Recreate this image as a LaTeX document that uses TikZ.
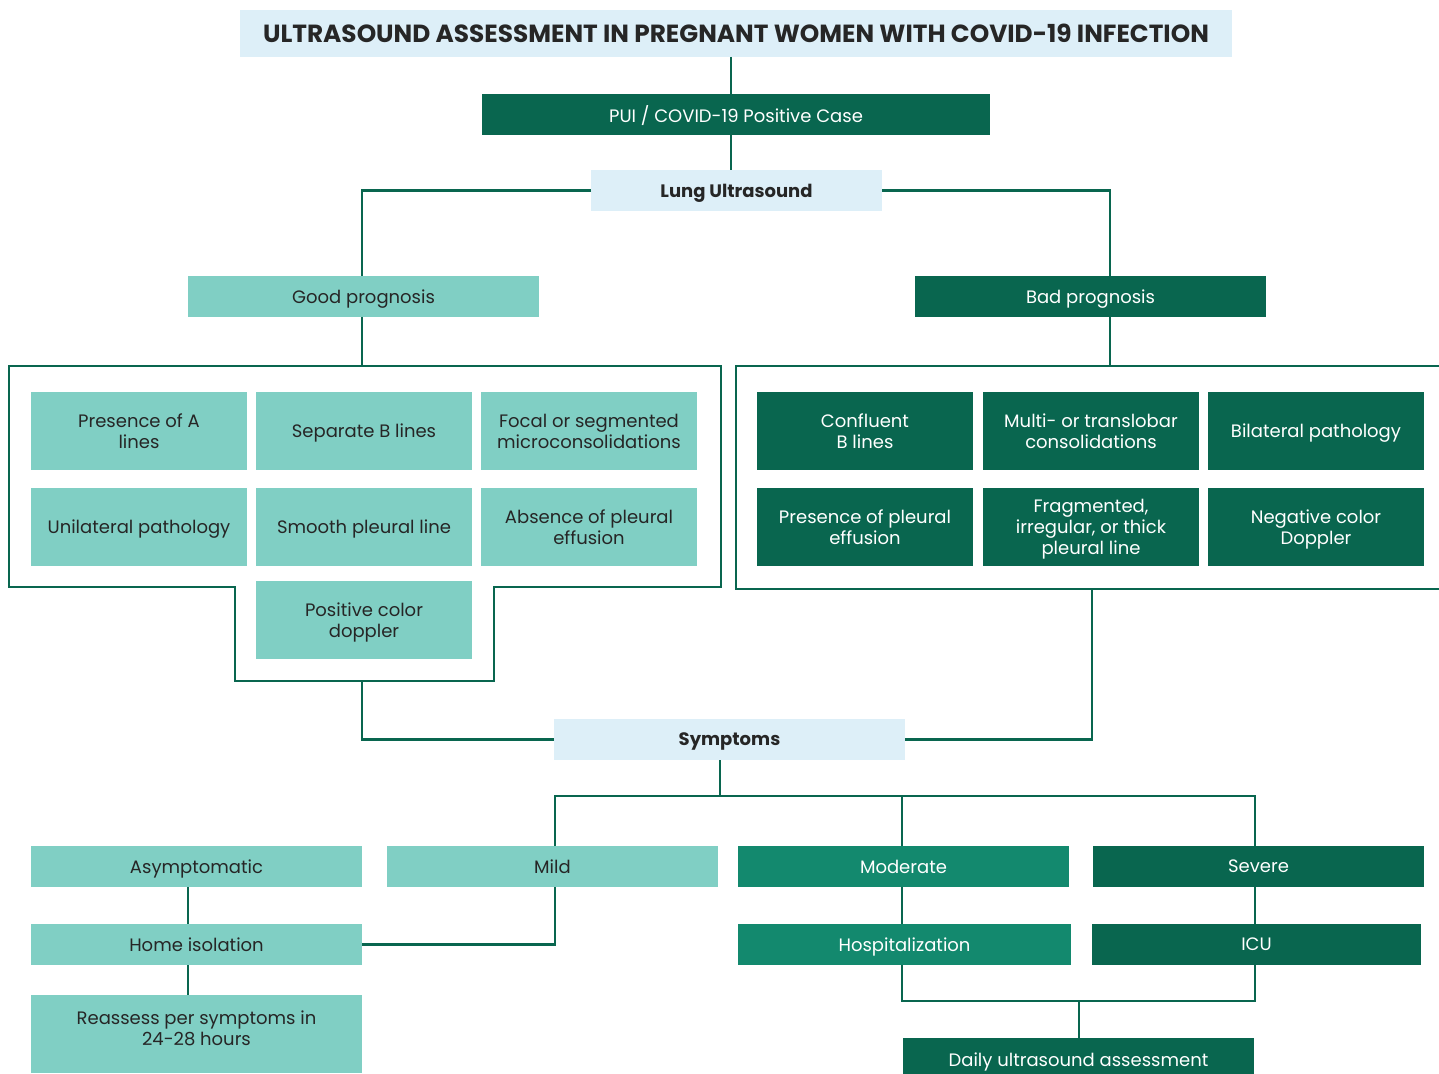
\documentclass[tikz,border=0pt]{standalone}
\usepackage{fontspec}
\setmainfont{Poppins}
\usetikzlibrary{calc}
\definecolor{paleblue}{HTML}{DDEFF8}
\definecolor{softteal}{HTML}{80CFC4}
\definecolor{deepgreen}{HTML}{09664F}
\definecolor{midgreen}{HTML}{13896E}
\definecolor{inkdark}{HTML}{262626}
\tikzset{
  base/.style={inner sep=0pt, outer sep=0pt, align=center, anchor=north west,
    text depth=0pt, font=\fontsize{9}{10.5}\selectfont},
  headbox/.style={base, fill=paleblue, text=inkdark, font=\fontsize{9}{10.5}\selectfont\bfseries},
  lightbox/.style={base, fill=softteal, text=inkdark},
  darkbox/.style={base, fill=deepgreen, text=white},
  midbox/.style={base, fill=midgreen, text=white},
  link/.style={draw=deepgreen, line width=1.3pt},
  frame/.style={draw=deepgreen, line width=1.4pt},
}
% box: name, x1, y1, x2, y2, style, text   (pixel-like units)
\newcommand\bx[7]{\node[#6, minimum width={(#4-#2)*0.5pt}, minimum height={(#5-#3)*0.5pt}] (#1) at (#2,#3) {#7};}
\begin{document}
\begin{tikzpicture}[x=0.5pt, y=-0.5pt]
\clip (0,0) rectangle (1439,1074);
\fill[white] (0,0) rectangle (1439,1074);

% header chain
\bx{title}{240}{10}{1232}{57}{headbox, font=\fontsize{12.4}{14}\selectfont\bfseries}{ULTRASOUND ASSESSMENT IN PREGNANT WOMEN WITH COVID-19 INFECTION}
\bx{pui}{482}{94}{990}{135}{darkbox}{PUI / COVID-19 Positive Case}
\bx{lung}{591}{170}{882}{211}{headbox}{Lung Ultrasound}
\bx{good}{188}{276}{539}{317}{lightbox}{Good prognosis}
\bx{bad}{915}{276}{1266}{317}{darkbox}{Bad prognosis}

% group outlines
\draw[frame] (9,366) -- (721,366) -- (721,587) -- (494,587) -- (494,681)
  -- (235,681) -- (235,587) -- (9,587) -- cycle;
\draw[frame] (736,366) rectangle (1450,589);
\coordinate (lgtop) at (362,366);
\coordinate (lgbot) at (362,681);
\coordinate (rgtop) at (1110,366);
\coordinate (rgbot) at (1092,589);

% good prognosis findings
\bx{ga}{31}{392}{247}{470}{lightbox}{Presence of A\\lines}
\bx{gb}{256}{392}{472}{470}{lightbox}{Separate B lines}
\bx{gc}{481}{392}{697}{470}{lightbox}{Focal or segmented\\microconsolidations}
\bx{gd}{31}{488}{247}{566}{lightbox}{Unilateral pathology}
\bx{ge}{256}{488}{472}{566}{lightbox}{Smooth pleural line}
\bx{gf}{481}{488}{697}{566}{lightbox}{Absence of pleural\\effusion}
\bx{gg}{256}{581}{472}{659}{lightbox}{Positive color\\doppler}

% bad prognosis findings
\bx{ba}{757}{392}{973}{470}{darkbox}{Confluent\\B lines}
\bx{bb}{983}{392}{1199}{470}{darkbox}{Multi- or translobar\\consolidations}
\bx{bc}{1208}{392}{1424}{470}{darkbox}{Bilateral pathology}
\bx{bd}{757}{488}{973}{566}{darkbox}{Presence of pleural\\effusion}
\bx{be}{983}{488}{1199}{566}{darkbox}{Fragmented,\\irregular, or thick\\pleural line}
\bx{bf}{1208}{488}{1424}{566}{darkbox}{Negative color\\Doppler}

% symptoms and management
\bx{sym}{554}{719}{905}{760}{headbox}{Symptoms}
\bx{asym}{31}{846}{362}{887}{lightbox}{Asymptomatic}
\bx{mild}{387}{846}{718}{887}{lightbox}{Mild}
\bx{mod}{738}{846}{1069}{887}{midbox}{Moderate}
\bx{sev}{1093}{846}{1424}{887}{darkbox}{Severe}
\bx{home}{31}{924}{362}{965}{lightbox}{Home isolation}
\bx{reas}{31}{995}{362}{1073}{lightbox}{Reassess per symptoms in\\24-28 hours\\[-4.5pt]\mbox{}}
\bx{hosp}{738}{924}{1071}{965}{midbox}{Hospitalization}
\bx{icu}{1092}{924}{1421}{965}{darkbox}{ICU}
\bx{daily}{903}{1038}{1254}{1081}{darkbox}{Daily ultrasound assessment}

% vertical guide positions of the connectors
\coordinate (spine) at (731,0);
\coordinate (bus) at (720,796);
\coordinate (xmild) at (555,0);
\coordinate (xmod) at (902,0);
\coordinate (xsev) at (1255,0);
\coordinate (xleft) at (188,0);
\coordinate (join) at (1079,1001);

% connectors
\draw[link] (title.south -| spine) -- (pui.north -| spine);
\draw[link] (pui.south -| spine) -- (lung.north -| spine);
\draw[link] (lung.west) -| (good.north -| lgtop);
\draw[link] (lung.east) -| (bad.north -| rgtop);
\draw[link] (good.south -| lgtop) -- (lgtop);
\draw[link] (bad.south -| rgtop) -- (rgtop);
\draw[link] (lgbot) |- (sym.west);
\draw[link] (rgbot) |- (sym.east);

\draw[link] (sym.south -| bus) -- (bus);
\draw[link] (mild.north -| xmild) -- (bus -| xmild) -- (bus -| xsev) -- (sev.north -| xsev);
\draw[link] (mod.north -| xmod) -- (bus -| xmod);

\draw[link] (asym.south -| xleft) -- (home.north -| xleft);
\draw[link] (home.south -| xleft) -- (reas.north -| xleft);
\draw[link] (mild.south -| xmild) |- (home.east);
\draw[link] (mod.south -| xmod) -- (hosp.north -| xmod);
\draw[link] (sev.south -| xsev) -- (icu.north -| xsev);

\draw[link] (hosp.south -| xmod) -- (join -| xmod) -- (join -| xsev) -- (icu.south -| xsev);
\draw[link] (join) -- (daily.north -| join);
\end{tikzpicture}
\end{document}
